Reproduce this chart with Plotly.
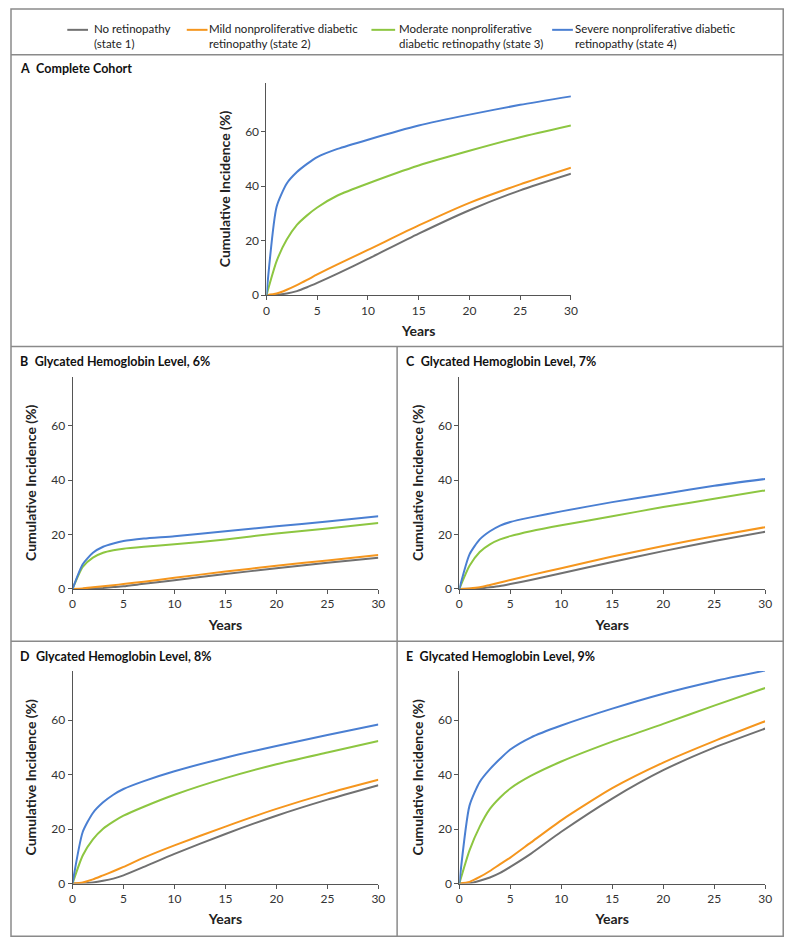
import plotly.graph_objects as go

# ---------------- data ----------------
years = [0, 1, 2, 3, 4, 5, 7, 10, 15, 20, 25, 30]

series_names = [
    "No retinopathy<br>(state 1)",
    "Mild nonproliferative diabetic<br>retinopathy (state 2)",
    "Moderate nonproliferative<br>diabetic retinopathy (state 3)",
    "Severe nonproliferative diabetic<br>retinopathy (state 4)",
]
series_colors = ["#717171", "#f5961e", "#8dc641", "#4a7fd2"]

panel_titles = [
    "Complete Cohort",
    "Glycated Hemoglobin Level, 6%",
    "Glycated Hemoglobin Level, 7%",
    "Glycated Hemoglobin Level, 8%",
    "Glycated Hemoglobin Level, 9%",
]
panel_letters = ["A", "B", "C", "D", "E"]

# Panel A: complete cohort
a_state1 = [0, 0.1, 0.6, 1.5, 2.9, 4.5, 7.9, 13.3, 22.6, 31.2, 38.5, 44.6]
a_state2 = [0, 0.6, 2.0, 3.7, 5.6, 7.6, 11.3, 16.6, 25.6, 33.9, 40.7, 46.8]
a_state3 = [0, 12.5, 20.4, 25.8, 29.3, 32.2, 36.6, 41.0, 47.6, 53.0, 58.0, 62.3]
a_state4 = [0, 32.5, 41.0, 45.2, 48.2, 50.7, 53.7, 57.1, 62.3, 66.3, 69.9, 73.0]

# Panel B: HbA1c 6%
b_state1 = [0, 0.05, 0.2, 0.4, 0.7, 1.0, 1.9, 3.2, 5.5, 7.6, 9.6, 11.5]
b_state2 = [0, 0.2, 0.6, 1.0, 1.4, 1.8, 2.7, 4.1, 6.4, 8.5, 10.5, 12.5]
b_state3 = [0, 8.1, 11.5, 13.3, 14.2, 14.8, 15.5, 16.4, 18.2, 20.4, 22.2, 24.2]
b_state4 = [0, 9.1, 13.3, 15.5, 16.7, 17.6, 18.5, 19.4, 21.2, 23.0, 24.8, 26.7]

# Panel C: HbA1c 7%
c_state1 = [0, 0.05, 0.2, 0.6, 1.1, 1.8, 3.3, 5.8, 9.9, 13.9, 17.6, 21.0]
c_state2 = [0, 0.2, 0.6, 1.5, 2.4, 3.3, 5.1, 7.6, 11.9, 15.8, 19.4, 22.7]
c_state3 = [0, 8.5, 13.6, 16.4, 18.2, 19.4, 21.2, 23.4, 26.7, 30.1, 33.1, 36.2]
c_state4 = [0, 12.7, 18.2, 21.2, 23.3, 24.6, 26.3, 28.5, 31.9, 34.9, 37.9, 40.4]

# Panel D: HbA1c 8%
d_state1 = [0, 0.05, 0.4, 1.0, 1.8, 3.0, 6.1, 10.9, 18.2, 24.9, 30.8, 36.1]
d_state2 = [0, 0.4, 1.5, 3.0, 4.5, 6.1, 9.5, 14.0, 20.9, 27.4, 33.1, 38.1]
d_state3 = [0, 10.3, 16.2, 20.1, 22.7, 24.9, 28.2, 32.6, 38.7, 43.8, 48.1, 52.3]
d_state4 = [0, 18.9, 25.9, 29.8, 32.6, 34.7, 37.6, 41.2, 46.2, 50.5, 54.5, 58.4]

# Panel E: HbA1c 9%
e_state1 = [0, 0.1, 1.0, 2.2, 3.9, 6.1, 10.9, 19.0, 31.2, 41.6, 49.9, 56.9]
e_state2 = [0, 0.6, 2.4, 4.6, 7.1, 9.5, 15.0, 23.2, 35.0, 44.4, 52.3, 59.6]
e_state3 = [0, 12.2, 20.9, 27.4, 31.6, 34.9, 39.5, 44.8, 52.1, 58.6, 65.3, 71.8]
e_state4 = [0, 28.6, 37.3, 42.0, 45.8, 49.2, 53.6, 58.0, 64.2, 69.7, 74.3, 78.2]

panels = [
    [a_state1, a_state2, a_state3, a_state4],
    [b_state1, b_state2, b_state3, b_state4],
    [c_state1, c_state2, c_state3, c_state4],
    [d_state1, d_state2, d_state3, d_state4],
    [e_state1, e_state2, e_state3, e_state4],
]

x_ticks = [0, 5, 10, 15, 20, 25, 30]
y_ticks = [0, 20, 40, 60]
y_max = 78

# ---------------- layout geometry (page pixels) ----------------
W, H = 800, 952
OFF = 8  # default body margin of the html page


def px_x(p):
    return (p - OFF) / W


def px_y(p):
    return 1 - (p - OFF) / H


# (left, right, top, bottom) of each plotting area, in page pixels
plot_boxes = [
    (266.7, 575.0, 83.3, 297.3),
    (70.3, 380.0, 379.3, 593.3),
    (462.0, 771.7, 379.3, 593.3),
    (70.3, 380.0, 676.0, 890.0),
    (462.0, 771.7, 676.0, 890.0),
]
title_pos = [(15, 69), (15, 364), (406, 364), (15, 661), (406, 661)]

FONT = "Lato"
fig = go.Figure()
layout = dict(
    width=W, height=H,
    margin=dict(l=0, r=0, t=0, b=0),
    paper_bgcolor="white", plot_bgcolor="white",
    showlegend=False,
    font=dict(family=FONT, color="#222"),
)

for i, (vals, box) in enumerate(zip(panels, plot_boxes)):
    n = "" if i == 0 else str(i + 1)
    xa, ya = "x" + n, "y" + n
    for v, col, name in zip(vals, series_colors, series_names):
        fig.add_trace(go.Scatter(
            x=years, y=v, mode="lines", name=name.replace("<br>", " "),
            line=dict(color=col, width=2, shape="spline", smoothing=0.6),
            xaxis=xa, yaxis=ya, showlegend=False))
    l, r, t, b = box
    axcommon = dict(showgrid=False, zeroline=False, showline=True,
                    linecolor="#555", linewidth=1, ticks="outside",
                    ticklen=4, tickcolor="#555",
                    tickfont=dict(family=FONT, size=12, color="#333"))
    layout["xaxis" + n] = dict(
        domain=[px_x(l), px_x(r)], range=[0, 30], tickvals=x_ticks,
        anchor=ya,
        title=dict(text="<b>Years</b>", font=dict(family=FONT, size=14, color="#222"),
                   standoff=9),
        **axcommon)
    layout["yaxis" + n] = dict(
        domain=[px_y(b), px_y(t)], range=[0, y_max], tickvals=y_ticks,
        anchor=xa,
        title=dict(text="<b>Cumulative Incidence (%)</b>",
                   font=dict(family=FONT, size=14, color="#222"), standoff=11),
        **axcommon)

fig.update_layout(**layout)

# panel titles
for (px, py), letter, title in zip(title_pos, panel_letters, panel_titles):
    fig.add_annotation(
        x=px_x(px), y=px_y(py), xref="paper", yref="paper",
        xanchor="left", yanchor="middle", showarrow=False,
        text=f"<b>{letter}</b>  <b>{title}</b>",
        font=dict(family=FONT, size=12.5, color="#111"))

# legend (line samples + text)
legend_line_x = [(65, 86), (186, 207), (373, 397), (556, 577)]
legend_text_x = [90, 206, 399, 577]
for (x0, x1), tx, col, name in zip(legend_line_x, legend_text_x, series_colors, series_names):
    fig.add_shape(type="line", xref="paper", yref="paper",
                  x0=px_x(x0), x1=px_x(x1), y0=px_y(30), y1=px_y(30),
                  line=dict(color=col, width=2))
    fig.add_annotation(
        x=px_x(tx), y=px_y(36.5), xref="paper", yref="paper",
        xanchor="left", yanchor="middle", align="left", showarrow=False,
        text=name, font=dict(family=FONT, size=11.5, color="#222"))

# panel borders
border = dict(color="#8a8a8a", width=1.5)
fig.add_shape(type="rect", xref="paper", yref="paper",
              x0=px_x(8), x1=px_x(790), y0=px_y(943), y1=px_y(9), line=border)
for y in (55, 349, 646):
    fig.add_shape(type="line", xref="paper", yref="paper",
                  x0=px_x(8), x1=px_x(790), y0=px_y(y), y1=px_y(y), line=border)
fig.add_shape(type="line", xref="paper", yref="paper",
              x0=px_x(399), x1=px_x(399), y0=px_y(943), y1=px_y(349), line=border)

fig.write_html("out.html")
